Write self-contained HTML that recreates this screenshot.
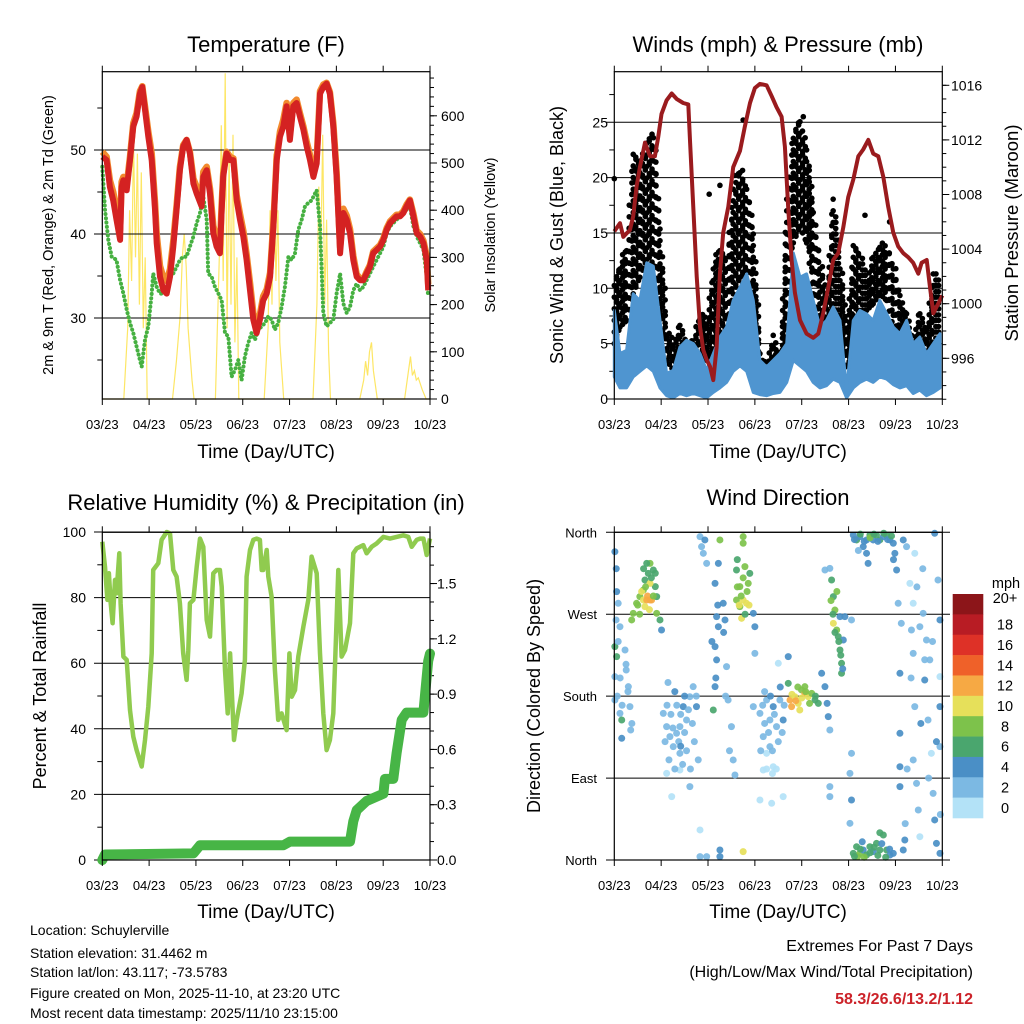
<!DOCTYPE html>
<html><head><meta charset="utf-8"><title>Station Meteogram</title>
<style>
html,body{margin:0;padding:0;background:#fff;}
svg{display:block;font-family:"Liberation Sans",Arial,sans-serif;}
</style></head>
<body>
<svg id="chart" xmlns="http://www.w3.org/2000/svg" width="1024" height="1024" viewBox="0 0 1024 1024">
<rect x="0" y="0" width="1024" height="1024" fill="#fff"/>
<text x="266" y="52" font-size="22" text-anchor="middle">Temperature (F)</text>
<text x="778" y="52" font-size="22" text-anchor="middle">Winds (mph) &amp; Pressure (mb)</text>
<text x="266" y="510" font-size="22" text-anchor="middle">Relative Humidity (%) &amp; Precipitation (in)</text>
<text x="778" y="505" font-size="22" text-anchor="middle">Wind Direction</text>
<text x="266" y="458" font-size="19" text-anchor="middle">Time (Day/UTC)</text>
<text x="778" y="458" font-size="19" text-anchor="middle">Time (Day/UTC)</text>
<text x="266" y="918" font-size="19" text-anchor="middle">Time (Day/UTC)</text>
<text x="778" y="918" font-size="19" text-anchor="middle">Time (Day/UTC)</text>
<text transform="translate(53,235) rotate(-90)" font-size="14.5" text-anchor="middle">2m &amp; 9m T (Red, Orange) &amp; 2m Td (Green)</text>
<text transform="translate(495,235) rotate(-90)" font-size="14.5" text-anchor="middle">Solar Insolation (Yellow)</text>
<text transform="translate(563,235) rotate(-90)" font-size="18" text-anchor="middle">Sonic Wind &amp; Gust (Blue, Black)</text>
<text transform="translate(1018,233) rotate(-90)" font-size="18.5" text-anchor="middle">Station Pressure (Maroon)</text>
<text transform="translate(46,696) rotate(-90)" font-size="18" text-anchor="middle">Percent &amp; Total Rainfall</text>
<text transform="translate(540,696) rotate(-90)" font-size="18" text-anchor="middle">Direction (Colored By Speed)</text>
<g font-size="14">
<text x="30" y="935">Location: Schuylerville</text>
<text x="30" y="958">Station elevation: 31.4462 m</text>
<text x="30" y="977">Station lat/lon: 43.117; -73.5783</text>
<text x="30" y="998">Figure created on Mon, 2025-11-10, at 23:20 UTC</text>
<text x="30" y="1018">Most recent data timestamp: 2025/11/10 23:15:00</text>
</g>
<g font-size="16" text-anchor="end">
<text x="973" y="951">Extremes For Past 7 Days</text>
<text x="973" y="977">(High/Low/Max Wind/Total Precipitation)</text>
<text x="973" y="1004" font-weight="bold" fill="#cc2229">58.3/26.6/13.2/1.12</text>
</g>
</svg>
<script>
// ---------- data ----------
const dayLabels = ["03/23","04/23","05/23","06/23","07/23","08/23","09/23","10/23"];
// Temperature panel
const tHours = [0,2.2,3.9,5.6,7.3,9.1,9.9,10.8,12.5,14.2,15.9,17.6,19.3,20.5,21.9,23.6,25.3,27.0,27.9,29.6,31.3,33.0,34.7,36.4,38.1,39.8,41.5,43.2,44.9,46.7,48.4,50.9,51.8,53.5,55.2,56.9,58.6,60.3,61.2,62.0,63.7,65.5,67.2,68.9,70.6,72.3,74.0,75.7,77.4,79.1,80.8,82.5,84.3,86.0,87.7,89.4,91.1,92.8,94.5,96.2,97.9,99.6,101.3,103.1,104.8,106.5,108.2,109.9,111.6,113.3,115.0,116.7,118.4,120.1,121.9,123.6,125.3,127.0,128.7,130.4,132.1,133.8,135.5,137.2,138.9,140.6,142.4,144.1,145.8,147.5,149.2,150.9,152.6,154.3,156.0,157.7,159.5,161.2,162.9,164.6,166.3,167.1];
const temp2m = [49.2,48.8,45.6,44.0,41.7,39.3,45.6,46.4,45.2,48.8,52.8,54.0,56.7,57.5,54.8,51.6,48.8,42.9,38.9,34.9,33.3,32.9,34.9,38.5,42.9,47.6,50.4,51.2,49.6,46.0,44.8,43.3,46.8,47.6,44.8,40.1,38.5,37.7,42.9,46.8,49.6,48.8,48.8,44.0,41.7,39.7,36.9,33.3,29.8,28.2,29.8,32.1,32.9,34.9,40.9,48.8,51.6,52.8,55.2,51.2,55.2,55.6,54.0,52.4,50.4,48.8,46.8,48.4,56.7,57.5,57.9,56.7,52.8,46.8,37.7,42.5,41.7,40.1,36.9,34.9,34.5,34.5,35.3,36.1,37.7,38.1,38.5,39.3,40.5,41.3,41.7,42.1,42.1,42.5,43.3,44.0,42.1,40.1,39.7,38.9,36.9,33.3];
const temp9m = [49.8,49.2,46.4,45.0,43.0,40.5,46.2,46.8,45.8,49.2,53.2,54.4,57.0,57.6,55.2,52.2,49.6,43.8,40.0,36.2,34.8,34.4,35.8,39.2,43.4,48.0,50.6,51.2,49.8,46.6,45.6,44.4,47.4,48.0,45.4,41.0,39.4,38.6,43.6,47.2,49.8,49.2,49.0,44.6,42.4,40.4,37.6,34.2,30.6,29.0,30.4,32.6,33.4,35.4,41.4,49.2,52.2,53.6,55.6,51.8,55.6,56.0,54.4,52.8,51.0,49.4,47.4,49.0,57.0,57.8,58.0,56.9,53.2,47.4,38.4,43.0,42.2,40.6,37.4,35.2,34.7,34.6,35.5,36.3,37.9,38.3,38.7,39.5,40.7,41.5,41.9,42.3,42.3,42.7,43.5,44.1,42.4,40.4,40.0,39.2,37.4,34.0];
const tdHours = [0,1.4,3.1,4.8,7.3,9.1,10.8,12.5,14.2,15.9,17.6,19.3,20.2,21.9,23.6,25.3,26.1,27.9,29.6,31.3,33.0,34.7,36.4,38.1,39.8,41.5,43.2,44.9,46.7,48.4,50.1,51.8,53.5,54.3,56.1,57.8,59.5,61.2,62.9,64.6,66.3,68.0,69.7,71.4,73.1,74.8,76.5,78.3,80.0,81.7,83.4,85.1,86.8,88.5,90.2,91.9,93.6,95.4,97.1,98.8,100.5,102.2,103.9,105.6,107.3,109.0,109.9,111.6,113.3,115.0,116.7,118.4,120.1,121.9,123.6,125.3,127.0,128.7,130.4,132.1,133.8,135.5,137.2,138.9,140.6,142.4,144.1,145.8,147.5,149.2,150.9,152.6,154.3,156.0,157.7,159.5,161.2,162.9,164.6,166.3,167.1];
const dewpoint = [48.0,42.9,39.3,37.3,36.9,34.5,32.9,31.0,29.4,28.2,26.6,25.0,24.2,27.4,29.0,32.9,35.3,33.7,32.9,32.9,33.3,34.9,35.3,36.1,36.9,37.3,37.3,38.5,39.7,41.3,42.5,44.4,41.7,35.3,34.9,33.7,32.9,32.1,28.2,27.8,23.0,23.8,25.0,22.6,25.4,27.0,28.2,27.4,28.6,29.0,29.4,30.2,29.8,28.6,29.4,31.3,33.7,37.3,36.9,37.7,40.5,41.7,43.3,43.7,44.0,44.8,45.2,40.9,30.6,29.0,29.4,29.8,32.9,35.3,31.7,30.6,31.3,33.3,34.1,33.3,33.7,34.5,35.3,36.1,36.9,37.7,38.5,40.1,40.9,41.3,41.7,42.1,42.5,42.9,43.3,40.9,39.7,38.9,38.1,34.9,32.5];
const solarHours = [0,11,13,14,15,16,17,18,19,20,21,22,23,36,38,40,41,42,43,44,46,47,58,60,61,62,63,64,65,66,67,68,69,70,83,85,86,87,88,89,90,91,93,108,110,111,112,113,114,115,116,117,132,134,135,136,137,138,139,141,155,157,158,159,160,161,162,164,166,168];
const solar = [0,0,150,400,250,550,300,520,200,480,150,300,0,0,80,180,300,350,280,150,40,0,0,300,580,250,690,150,520,200,560,120,300,0,0,150,400,200,520,250,400,120,0,0,200,450,300,560,200,380,100,0,0,40,80,50,100,120,60,0,0,60,90,50,60,40,45,20,0,0];
// Wind panel
const windHours = [0,2.9,6.3,9.7,13.1,16.6,20.0,23.4,26.8,30.2,33.6,37.0,40.5,43.9,47.3,50.7,54.1,57.5,60.9,64.4,67.8,71.2,74.6,78.0,81.4,84.8,88.3,91.7,95.1,98.5,101.9,105.3,108.7,112.1,115.6,119.0,122.4,125.8,129.2,132.6,136.0,139.5,142.9,146.3,149.7,153.1,156.5,159.9,163.4,166.8];
const windHi = [8.0,4.1,4.4,9.5,8.9,12.3,12.0,7.1,2.3,2.6,4.7,5.3,5.0,4.1,2.6,4.1,5.6,6.5,8.9,10.1,11.3,8.9,3.5,2.9,3.5,4.1,5.0,13.2,11.0,11.3,8.9,6.5,7.1,8.3,7.1,0.8,7.1,8.0,7.7,7.1,8.9,7.7,6.5,5.9,7.1,5.0,5.6,4.1,5.0,5.9];
const windLo = [2.0,1.0,1.0,2.0,2.5,3.0,2.5,1.0,0.3,0.1,0.5,0.3,0.5,0.3,0.1,0.6,1.0,1.5,2.5,3.0,2.5,0.6,0.4,0.3,0.5,0.6,1.5,3.5,3.0,2.5,1.5,1.0,1.2,1.8,1.5,0.1,1.0,1.5,1.8,1.5,2.0,1.8,1.3,1.0,1.2,0.5,0.8,0.3,0.6,1.0];
const gustHi = [11.0,12.6,13.8,23.1,21.6,23.7,24.3,15.6,6.5,5.0,7.1,5.0,5.6,8.0,7.1,12.6,13.8,12.6,19.2,21.3,19.2,15.6,4.1,3.5,5.9,4.1,18.6,24.6,25.2,23.1,17.1,12.6,9.5,18.6,12.6,6.5,14.1,13.2,11.0,13.2,14.1,14.1,12.6,9.5,7.7,5.6,8.6,6.5,12.0,10.7];
const gustLo = [5.0,6.5,7.1,9.5,11.0,12.6,11.0,8.0,3.5,2.6,3.5,2.3,2.9,4.1,3.5,4.4,5.0,6.5,9.5,11.0,9.5,6.5,2.0,1.7,2.6,2.0,6.5,14.1,15.6,14.1,9.5,6.5,5.0,6.5,6.5,2.0,6.5,8.0,8.0,8.6,9.5,8.9,6.5,4.1,3.5,2.9,3.5,4.1,5.0,5.0];
const gustOutHours = [0,66.0,96.8,61.4,54.1,48.6,128.4,141.0];
const gustOutValues = [19.9,25.2,25.5,20.2,19.3,18.5,16.6,16.0];
const presHours = [0,2.9,4.6,8.0,9.7,11.4,13.1,15.7,18.3,20.8,22.5,24.2,26.8,29.4,31.9,35.3,37.9,38.8,40.5,42.2,43.9,45.6,47.3,49.0,50.7,52.4,54.1,55.8,58.4,60.9,64.4,66.9,69.5,72.0,74.6,78.0,80.6,83.1,85.7,87.4,89.1,90.8,92.5,95.1,98.5,101.9,104.5,107.0,109.6,112.1,114.7,117.3,119.8,122.4,125.0,127.5,130.1,132.6,135.2,137.8,140.3,142.9,145.4,148.0,150.6,153.1,155.7,157.4,160.0,161.7,163.4,165.9,168.0];
const pressure = [1005.3,1005.9,1004.9,1005.4,1006.4,1008.6,1010.0,1011.8,1010.8,1010.8,1012.2,1013.9,1014.9,1015.4,1015.0,1014.7,1014.6,1011.8,1006.9,1002.0,998.3,996.6,995.9,995.4,994.4,996.8,1002.2,1005.2,1007.1,1010.0,1011.2,1013.0,1014.7,1015.8,1016.1,1016.0,1015.2,1014.4,1013.7,1011.5,1006.9,1003.2,1000.8,998.8,997.8,997.5,997.8,999.3,1001.2,1003.2,1003.7,1005.6,1007.8,1009.1,1010.8,1011.3,1012.0,1011.0,1010.8,1009.3,1007.1,1005.2,1004.2,1003.7,1003.4,1003.0,1002.2,1003.0,1003.2,1001.2,999.3,1000.0,1000.6];
// RH panel
const rhHours = [0,1.4,2.6,3.4,4.3,5.3,6.5,7.3,8.7,9.4,10.8,12.5,14.2,15.9,17.6,20.2,21.9,23.6,25.3,26.1,28.7,30.4,33.0,34.7,36.4,38.1,39.8,41.5,43.2,44.1,44.9,46.7,48.4,50.1,51.8,53.5,55.2,56.9,58.6,60.3,61.2,62.9,64.3,65.5,66.3,67.5,68.9,71.4,73.1,74.0,75.7,77.4,79.1,80.8,81.7,82.5,84.3,85.1,86.8,88.5,90.2,91.9,94.5,95.9,97.1,98.8,100.5,103.1,105.6,107.3,109.9,111.6,113.3,115.0,116.7,118.4,120.1,121.0,122.7,124.4,127.0,128.7,130.4,132.1,133.8,135.5,138.1,140.6,144.1,147.5,150.9,154.3,156.9,158.6,161.2,162.9,164.6,166.3,168.0];
const rh = [97.0,89.4,79.3,87.4,78.3,72.2,85.4,81.3,93.5,78.3,62.0,61.0,45.7,37.6,33.5,28.5,36.6,46.7,63.0,88.4,90.5,97.6,100,99.6,88.4,86.4,78.3,63.0,54.9,64.0,78.3,79.3,89.4,98.0,95.5,73.2,68.1,87.4,88.4,88.4,83.3,57.9,44.7,63.0,52.8,36.6,42.7,50.8,61.0,86.4,94.5,97.6,98.0,97.6,88.4,88.4,94.5,86.4,80.3,57.9,42.7,44.7,39.6,63.0,49.8,51.8,62.0,71.2,79.3,92.5,87.4,63.0,44.7,33.5,36.6,44.7,73.2,88.4,62.0,64.0,72.2,93.5,95.0,95.5,96.0,93.5,95.5,96.5,98.5,98.0,98.5,99.0,98.5,95.5,97.6,98.0,98.0,93.0,98.0];
const rainHours = [0,1.4,46.7,50.1,92.8,96.2,127.0,128.7,130.4,135.5,144.1,144.9,149.2,150.9,153.5,156.0,164.6,165.5,167.1,168.0];
const rain = [0,0.03,0.036,0.08,0.08,0.10,0.10,0.21,0.27,0.32,0.36,0.44,0.44,0.58,0.76,0.80,0.80,0.90,1.08,1.12];
// Wind direction panel
const dirHours = [0.3,1.2,0.9,0.3,1.2,0.3,0.3,2.9,3.8,3.8,5.5,6.1,7.2,8.0,8.4,2.0,2.9,
9.7,11.4,13.1,14.9,16.6,18.3,19.1,15.7,14.9,15.7,17.4,18.3,20.0,21.0,18.3,16.6,21.7,23.4,24.2,8.9,21.7,
25.1,26.8,28.5,30.2,31.9,33.6,35.3,37.0,38.7,40.4,42.1,33.6,26.8,29.4,33.6,38.7,43.9,
43.9,45.6,47.3,46.4,44.7,43.9,47.3,
51.6,52.4,53.3,51.6,52.4,51.6,50.7,55.8,56.7,57.5,58.3,60.0,60.9,61.8,54.1,54.1,54.1,53.3,
62.6,64.3,62.6,64.3,66.0,67.7,65.2,68.6,66.9,69.4,66.0,66.0,66.0,71.2,72.0,72.0,71.2,
74.6,76.3,78.0,76.3,79.7,81.4,83.1,84.8,86.5,78.0,79.7,81.4,74.6,80.6,86.5,84.0,89.1,
90.0,90.8,92.5,94.2,95.9,97.6,99.3,101.1,102.8,104.5,95.0,89.1,97.6,
106.2,107.9,109.0,109.6,110.4,110.4,110.4,107.9,110.4,
111.3,112.2,113.0,112.2,113.9,114.7,115.6,116.4,116.4,115.6,117.3,118.1,121.5,121.5,120.7,121.5,120.7,
122.4,124.1,125.8,127.5,129.2,130.9,132.6,134.3,136.0,137.8,139.5,141.2,142.9,129.2,130.0,143.7,144.6,
122.4,124.1,125.8,127.5,129.2,130.9,132.6,134.3,136.0,137.8,139.5,141.2,142.9,124.6,148.0,148.8,
145.4,146.3,146.3,146.3,146.3,148.0,149.7,151.4,152.2,153.1,153.9,153.1,154.8,155.7,156.5,153.9,158.2,159.9,159.0,161.6,160.7,162.4,163.3,164.1,165.0,165.8,166.8,166.8,166.8,166.8,166.8,164.1,153.1,156.5,
26,27,28,29,30,31,32,33,34,35,36,37,38,39,40,41,42,43,27.5,31,36,34,
75,76,77,78,79,80,81,82,83,84,85,86,87,77,81,
123,126,128,131,133,135,138,140,142,125,143,
123,126,128,131,133,135,137,139,141,127,136,
12,14,16,17,19,20,15,13,18,21,
63,64,65,67,68,66,63,69,
91,93,96,98,100,103,94,
111,112,113,114,115,116,117,
1,2,3,1.5,4,6,7,9,
150,152,155,157,159,161,163,165,167,147,149,158,
50,52,53,56,57,59];
const dirDeg = [338.7,294.8,263.7,234.4,223.4,201.4,175.8,161.1,153.8,133.7,230.7,208.7,190.4,168.5,142.8,282.0,256.3,
271.0,282.0,289.3,285.6,285.6,285.6,285.6,278.3,296.6,307.6,314.9,325.9,318.6,300.3,303.9,325.9,271.0,263.7,252.7,263.7,289.3,
161.1,146.5,135.5,124.5,139.2,117.2,168.5,153.8,179.4,190.4,168.5,146.5,95.2,69.6,98.9,80.6,33.0,
355.2,336.9,325.9,351.6,344.2,3.7,3.7,
303.9,267.3,256.3,234.4,219.8,190.4,164.8,282.0,263.7,212.4,175.8,146.5,109.9,93.4,351.6,3.7,11.0,325.9,
318.6,300.3,285.6,278.3,285.6,282.0,265.5,303.9,322.3,314.9,355.2,348.0,9.2,271.0,256.3,227.0,168.5,
161.1,135.5,117.2,98.9,153.8,168.5,146.5,175.8,153.8,175.8,124.5,102.5,65.9,62.3,69.6,216.1,223.4,
175.8,168.5,179.4,172.1,186.8,183.1,179.4,183.1,175.8,172.1,164.8,194.1,190.4,
205.1,190.4,172.1,157.5,142.8,80.6,69.6,318.6,320.4,
307.6,289.3,274.6,260.0,252.7,245.4,230.7,216.1,205.1,267.3,241.7,267.3,263.7,117.2,95.2,65.9,40.3,
357.0,351.6,355.2,344.2,351.6,357.0,351.6,357.0,351.6,355.2,357.0,351.6,348.0,336.9,325.9,336.9,318.6,
7.3,14.6,7.3,11.0,5.5,14.6,9.2,18.3,11.0,27.5,11.0,5.5,7.3,3.7,11.0,22.0,
282.0,205.1,139.2,102.5,80.6,351.6,344.2,303.9,252.7,227.0,168.5,109.9,84.2,54.9,25.6,336.9,271.0,241.7,197.7,219.8,153.8,117.2,73.2,44.0,18.3,307.6,263.7,201.4,168.5,124.5,7.3,358.9,282.0,256.3,
130,170,110,160,145,100,170,130,160,105,140,120,165,100,150,130,180,110,195,185,180,125,
120,170,150,100,140,180,120,160,100,130,190,140,170,185,95,
352,358,350,354,358,350,359,352,356,340,330,
4,12,3,8,14,5,18,3,12,20,30,
280,295,300,290,310,290,320,270,275,315,
300,280,290,270,295,310,330,280,
182,175,178,185,172,180,190,
285,270,250,295,240,225,210,
320,240,200,180,170,215,185,150,
100,200,300,150,220,90,240,130,50,260,40,320,
240,200,280,250,180,120];
const dirSpeed = [4,4,2,6,6,2,2,2,6,4,2,2,2,2,2,2,2,
8,8,8,10,12,12,12,10,8,6,6,8,6,6,10,6,8,6,4,8,6,
2,2,2,2,2,2,4,2,2,2,4,2,0,0,0,2,0,
2,2,2,4,2,2,2,
4,4,4,4,4,4,6,4,4,2,2,2,2,2,8,4,4,4,
6,8,8,8,10,10,10,8,8,6,8,8,10,4,4,2,2,
2,2,0,0,2,4,2,2,4,2,2,0,0,0,0,0,4,
12,12,10,10,8,12,10,8,6,6,10,6,8,
4,4,4,4,2,2,2,2,2,
6,6,8,10,8,6,6,6,6,4,4,4,2,2,2,4,2,
4,6,4,4,4,6,4,6,6,4,6,4,4,4,4,4,4,
6,6,8,4,6,6,4,6,6,6,6,4,4,8,4,4,
2,4,4,4,4,4,2,0,2,2,2,2,2,2,0,0,2,2,4,2,2,0,2,4,4,2,4,0,4,2,4,4,0,2,
2,2,2,2,2,2,2,2,2,2,2,2,2,2,2,2,2,2,2,4,4,4,
2,2,2,0,2,4,2,2,0,2,4,2,2,2,0,
4,6,4,8,6,4,6,4,6,2,4,
6,6,8,6,6,6,4,6,4,4,6,
8,10,8,12,6,8,6,8,10,6,
8,10,8,6,8,8,6,10,
10,12,10,8,8,6,8,
8,6,6,8,6,6,4,
4,2,2,2,2,2,2,2,
2,2,2,4,2,2,2,4,2,2,2,2,
4,4,4,4,2,2];
const speedBins = ["0","2","4","6","8","10","12","14","16","18","20+"];
const speedColors = ["#b3e2f7","#7cb9e3","#4a8fc6","#4aa66e","#7dc24b","#e6e05a","#f6a944","#ef6129","#de3127","#b81c24","#8c1519"];

// ---------- helpers ----------
const NS = "http://www.w3.org/2000/svg";
const svg = document.getElementById("chart");
function add(tag, attrs, parent){
  const e = document.createElementNS(NS, tag);
  for (const k in attrs) e.setAttribute(k, attrs[k]);
  (parent || svg).appendChild(e);
  return e;
}
function group(parent){ return add("g", {}, parent); }

const P1 = {x0:102.3, x1:430, y0:71.7, y1:399};
const P2 = {x0:614.3, x1:942.3, y0:71.7, y1:399};
const P3 = {x0:102.3, x1:430, y0:532.3, y1:860};
const P4 = {x0:614.3, x1:942.3, y0:532.3, y1:860};
const xs = (P) => (h) => P.x0 + h / 168 * (P.x1 - P.x0);
const x1s = xs(P1), x2s = xs(P2), x3s = xs(P3), x4s = xs(P4);
const yTemp = (v) => 150 + (50 - v) * 8.4;
const ySolar = (w) => 399 - w * 0.472;
const yWind = (m) => 399 - m * 11.07;
const yPres = (p) => 358.3 - (p - 996) * 13.65;
const yRH = (r) => 860 - r * 3.28;
const yRain = (i) => 860 - i * 184.3;
const yDir = (d) => 860 - d / 360 * 327.7;
function pts(hours, vals, xf, yf){
  return hours.map((h, i) => xf(h).toFixed(1) + "," + yf(vals[i]).toFixed(1)).join(" ");
}

function xAxis(P, xf, labelY, name){
  const g = group();
  
  
  dayLabels.forEach((lab, i) => {
    const x = xf(i * 24);
    add("line", {x1:x, y1:P.y1, x2:x, y2:P.y1 + 6, stroke:"#000", "stroke-width":1}, g);
    add("line", {x1:x, y1:P.y0, x2:x, y2:P.y0 - 6, stroke:"#000", "stroke-width":1}, g);
    const t = add("text", {x:x, y:labelY, "font-size":13, "text-anchor":"middle"}, g);
    t.textContent = lab;
    
    
  });
}
function frame(P, name){
  const r = add("rect", {x:P.x0, y:P.y0, width:P.x1 - P.x0, height:P.y1 - P.y0, fill:"none", stroke:"#000", "stroke-width":1.2});
  
  
}
function leftAxis(P, majors, minors, yf, labels, gridX0, labelX, name){
  const g = group();
  
  
  minors.forEach(v => { const y = yf(v); add("line", {x1:P.x0 - 5, y1:y, x2:P.x0, y2:y, stroke:"#000", "stroke-width":1}, g); });
  majors.forEach((v, i) => {
    const y = yf(v);
    add("line", {x1:gridX0, y1:y, x2:P.x1, y2:y, stroke:"#000", "stroke-width":1}, g);
    const t = add("text", {x:labelX, y:y + 5, "font-size":14, "text-anchor":"end"}, g);
    t.textContent = labels[i];
    
    
  });
}
function rightAxis(P, majors, minors, yf, labels, labelX, name){
  const g = group();
  
  
  minors.forEach(v => { const y = yf(v); add("line", {x1:P.x1, y1:y, x2:P.x1 + 4, y2:y, stroke:"#000", "stroke-width":1}, g); });
  majors.forEach((v, i) => {
    const y = yf(v);
    add("line", {x1:P.x1, y1:y, x2:P.x1 + 7, y2:y, stroke:"#000", "stroke-width":1}, g);
    const t = add("text", {x:labelX, y:y + 5, "font-size":14, "text-anchor":"start"}, g);
    t.textContent = labels[i];
    
    
  });
}
function range(a, b, s){ const r = []; for (let v = a; v <= b + 1e-9; v += s) r.push(+v.toFixed(3)); return r; }

// ---------- Panel 1 ----------
const solarLine = add("polyline", {points:pts(solarHours, solar, x1s, ySolar), fill:"none", stroke:"#fde24a", "stroke-width":1.2, "stroke-opacity":0.85});


leftAxis(P1, [30,40,50], [25,35,45,55], yTemp, ["30","40","50"], 94, 86, "temp-left-axis");
rightAxis(P1, range(0,600,100), range(0,680,20), ySolar, ["0","100","200","300","400","500","600"], 441, "solar-right-axis");
const tdLine = add("polyline", {points:pts(tdHours, dewpoint, x1s, yTemp), fill:"none", stroke:"#46b041", "stroke-width":4, "stroke-dasharray":"0.1 4.2", "stroke-linecap":"round"});


const t9Line = add("polyline", {points:pts(tHours, temp9m, x1s, yTemp), fill:"none", stroke:"#f28a2e", "stroke-width":6.5, "stroke-linejoin":"round"});


const t2Line = add("polyline", {points:pts(tHours, temp2m, x1s, yTemp), fill:"none", stroke:"#d42222", "stroke-width":6, "stroke-linejoin":"round"});


frame(P1, "temp-plot-frame");
xAxis(P1, x1s, 429, "temp-x-axis");

// ---------- Panel 2 ----------
leftAxis(P2, range(0,25,5), range(2.5,27.5,5), yWind, ["0","5","10","15","20","25"], 606, 608, "wind-left-axis");
rightAxis(P2, range(996,1016,4), range(993,1016,1), yPres, ["996","1000","1004","1008","1012","1016"], 951, "pressure-right-axis");
const gustG = group();


for (let i = 0; i < windHours.length - 1; i++){
  for (let s = 0; s < 5; s++){
    const f = s / 5;
    const h = windHours[i] + (windHours[i+1] - windHours[i]) * f;
    const lo = gustLo[i] + (gustLo[i+1] - gustLo[i]) * f;
    const hi = gustHi[i] + (gustHi[i+1] - gustHi[i]) * f;
    for (let v = lo + (s % 2) * 0.5; v <= hi; v += 1.05){
      const c = add("circle", {cx:x2s(h) + (s % 2) * 1.2, cy:yWind(v), r:2.8, fill:"#000"}, gustG);
      
      
    }
  }
}
gustOutHours.forEach((h, i) => {
  const c = add("circle", {cx:x2s(h), cy:yWind(gustOutValues[i]), r:2.8, fill:"#000"}, gustG);
  
  
});
const windPoly = windHours.map((h, i) => x2s(h).toFixed(1) + "," + yWind(windHi[i]).toFixed(1))
  .concat(windHours.slice().reverse().map((h, j) => { const i = windHours.length - 1 - j; return x2s(h).toFixed(1) + "," + yWind(windLo[i]).toFixed(1); })).join(" ");
const windArea = add("polygon", {points:windPoly, fill:"#4f95d0", stroke:"#4f95d0", "stroke-width":3, "stroke-linejoin":"round"});


const presLine = add("polyline", {points:pts(presHours, pressure, x2s, yPres), fill:"none", stroke:"#9a1b1e", "stroke-width":4, "stroke-linejoin":"round"});


frame(P2, "wind-plot-frame");
xAxis(P2, x2s, 429, "wind-x-axis");

// ---------- Panel 3 ----------
leftAxis(P3, range(0,100,20), range(10,90,20), yRH, ["0","20","40","60","80","100"], 94, 86, "rh-left-axis");
rightAxis(P3, range(0,1.5,0.3), range(0,1.7,0.1), yRain, ["0.0","0.3","0.6","0.9","1.2","1.5"], 437, "rain-right-axis");
const rhLine = add("polyline", {points:pts(rhHours, rh, x3s, yRH), fill:"none", stroke:"#90cb4f", "stroke-width":4.5, "stroke-linejoin":"round"});


const rainLine = add("polyline", {points:pts(rainHours, rain, x3s, yRain), fill:"none", stroke:"#47b546", "stroke-width":10, "stroke-linejoin":"round", "stroke-linecap":"round"});


frame(P3, "rh-plot-frame");
xAxis(P3, x3s, 890, "rh-x-axis");

// ---------- Panel 4 ----------
const dirG = group();


const dirTicks = [0, 90, 180, 270, 360];
const dirNames = ["North","East","South","West","North"];
dirTicks.forEach((d, i) => {
  const y = yDir(d);
  add("line", {x1:606, y1:y, x2:950, y2:y, stroke:"#000", "stroke-width":1}, dirG);
  const t = add("text", {x:597, y:y + 5, "font-size":13, "text-anchor":"end"}, dirG);
  t.textContent = dirNames[i];
  
  
});
const dotG = group();


dirHours.forEach((h, i) => {
  const bin = Math.min(10, Math.floor(dirSpeed[i] / 2));
  const c = add("circle", {cx:x4s(h), cy:yDir(dirDeg[i]), r:3.5, fill:speedColors[bin], "fill-opacity":0.92}, dotG);
  
  
});
frame(P4, "direction-plot-frame");
xAxis(P4, x4s, 890, "direction-x-axis");

const cb = group();


const cbTop = 594, cbH = 224 / 11;
const unit = add("text", {x:1006, y:588, "font-size":14.5, "text-anchor":"middle"}, cb);
unit.textContent = "mph";


for (let k = 0; k < 11; k++){
  const idx = 10 - k;
  const y = cbTop + k * cbH;
  const r = add("rect", {x:952.7, y:y, width:30.6, height:cbH + 0.3, fill:speedColors[idx]}, cb);
  
  
  const t = add("text", {x:1005, y:y + cbH / 2 + 5 - (idx === 10 ? 6 : 0), "font-size":14.5, "text-anchor":"middle"}, cb);
  t.textContent = speedBins[idx];
  
  
}
</script>
</body></html>
